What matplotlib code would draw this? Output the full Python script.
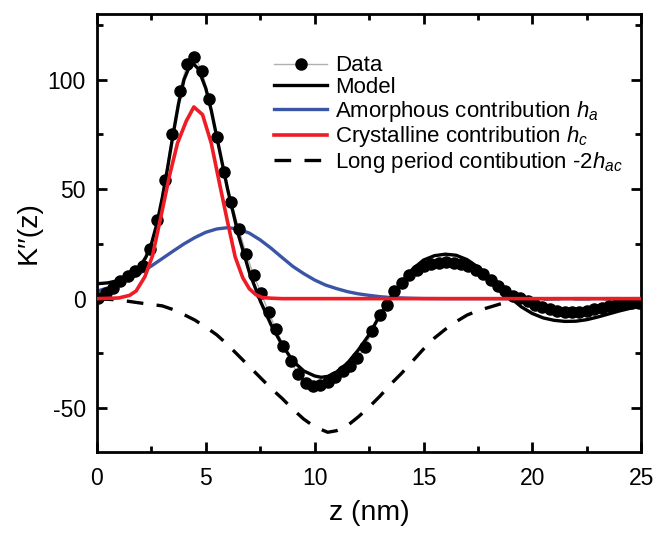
import numpy as np
import matplotlib
matplotlib.use("Agg")
import matplotlib.pyplot as plt
from matplotlib.ticker import MultipleLocator

plt.rcParams['font.family'] = ['Liberation Sans', 'DejaVu Sans']
plt.rcParams['mathtext.fontset'] = 'custom'
plt.rcParams['mathtext.rm'] = 'Liberation Sans'
plt.rcParams['mathtext.it'] = 'Liberation Sans:italic'
plt.rcParams['axes.unicode_minus'] = False

# ---- Data (measured points) ----
data_z = [0.06, 0.40, 0.74, 1.08, 1.42, 1.76, 2.10, 2.44, 2.78, 3.12, 3.46, 3.80,
          4.14, 4.48, 4.82, 5.16, 5.50, 5.84, 6.18, 6.52, 6.86, 7.20, 7.54, 7.88,
          8.22, 8.56, 8.90, 9.24, 9.58, 9.92, 10.26, 10.60, 10.94, 11.28, 11.62, 11.96,
          12.30, 12.64, 12.98, 13.32, 13.66, 14.00, 14.34, 14.68, 15.02, 15.36, 15.70, 16.04,
          16.38, 16.72, 17.06, 17.40, 17.74, 18.08, 18.42, 18.76, 19.10, 19.44, 19.78, 20.12,
          20.46, 20.80, 21.14, 21.48, 21.82, 22.16, 22.50, 22.84, 23.18, 23.52, 23.86, 24.20,
          24.54, 24.88]
data_k = [0.5, 2.5, 4.9, 7.9, 10.2, 12.5, 14.8, 22.5, 36.0, 54.0, 75.0, 95.0,
          107.0, 110.5, 104.0, 91.0, 74.0, 58.0, 44.0, 31.6, 20.2, 10.7, 2.6, -6.1,
          -13.9, -21.5, -28.4, -34.6, -38.5, -39.9, -39.4, -37.9, -35.6, -33.1, -30.8, -27.2,
          -22.3, -15.0, -7.6, -2.8, 3.4, 7.3, 10.7, 13.0, 14.8, 15.9, 16.4, 16.5,
          16.4, 16.0, 15.0, 13.3, 11.3, 8.7, 5.8, 3.4, 1.4, 0.2, -1.3, -2.7,
          -3.9, -4.9, -5.6, -6.1, -6.2, -6.0, -5.5, -4.9, -4.2, -3.4, -2.7, -2.2,
          -2.0, -2.0]

# ---- Model ----
model_z = [0, 0.5, 1, 1.5, 2, 2.25, 2.5, 2.75, 3, 3.25, 3.5, 3.75, 4, 4.25, 4.45, 4.65,
           5, 5.25, 5.5, 5.75, 6, 6.5, 7, 7.5, 8, 8.5, 9, 9.5, 10, 10.3, 10.6, 11, 11.5, 12,
           12.5, 13, 13.5, 14, 14.5, 15, 15.5, 16, 16.5, 17, 17.5, 18, 18.5, 19, 19.5,
           20, 20.5, 21, 21.5, 22, 22.5, 23, 23.5, 24, 24.5, 25]
model_k = [6.8, 7.2, 8.3, 10.5, 15, 19, 25, 34, 46, 60, 75, 89, 100, 106, 107, 105,
           96, 86, 74, 62, 50, 29, 12, -1, -12, -21, -28.5, -33, -35.3, -35.9, -35.5, -33.5, -29.5, -23.5,
           -16.5, -7.5, 0.5, 7.5, 13.5, 17.6, 19.6, 20.3, 19.8, 17.8, 14.4, 10, 5, 0.3, -3.8,
           -6.8, -8.8, -9.9, -10.4, -10.3, -9.6, -8.4, -7, -5.6, -4.4, -3.5]

# ---- Amorphous contribution h_a ----
amor_z = [0, 0.5, 1, 1.5, 2, 2.5, 3, 3.5, 4, 4.5, 5, 5.5, 6, 6.5, 7, 7.5, 8, 8.5, 9,
          9.5, 10, 10.5, 11, 11.5, 12, 12.5, 13, 13.5, 14, 14.5, 15, 16, 25]
amor_k = [3.4, 4.9, 6.7, 9.1, 11.8, 14.9, 18.3, 21.7, 25.0, 27.9, 30.3, 31.8, 32.4,
          31.8, 29.9, 26.8, 23.0, 18.8, 14.7, 11.4, 8.5, 6.2, 4.6, 3.2, 2.2, 1.5, 0.9,
          0.5, 0.3, 0.15, 0.05, 0, 0]

# ---- Crystalline contribution h_c ----
cryst_z = [0, 1, 1.5, 1.8, 2.2, 2.55, 2.95, 3.33, 3.7, 4.1, 4.45, 4.85, 5.25, 5.6, 6.0,
           6.35, 6.7, 7.0, 7.3, 7.6, 8.0, 8.5, 25]
cryst_k = [0, 0.3, 1.5, 3.5, 10, 19.5, 38, 56, 71, 81, 87.5, 84, 71, 54, 35,
           19, 9.5, 4.5, 1.8, 0.5, 0.2, 0, 0]

# ---- Long period contribution -2h_ac ----
lp_z = [0, 1, 1.5, 2, 3, 3.5, 4, 4.5, 5, 5.5, 6, 6.5, 7, 7.5, 8, 8.5, 9, 9.5, 10, 10.6,
        11, 11.5, 12, 12.5, 13, 13.5, 14, 14.5, 15, 15.5, 16, 16.5, 17, 17.5, 18, 18.5,
        19, 19.5, 20, 21, 25]
lp_k = [0, -0.6, -1.3, -2, -3.3, -5, -7.3, -9.8, -13, -16.5, -21, -26, -31, -36, -41,
        -45.5, -50.5, -55, -58.5, -61, -60.3, -58, -54, -49.5, -44.5, -39, -34, -28.5, -23,
        -18, -14, -10.5, -7.5, -5.5, -4, -2.5, -1.3, -0.6, -0.2, 0, 0]

fig = plt.figure(figsize=(6.55, 5.33), dpi=100)
ax = fig.add_axes([0.148, 0.152, 0.831, 0.822])

ax.plot(data_z, data_k, color='#b0b0b0', lw=1.0, marker='o', ms=8,
        mfc='black', mec='black', label='Data', zorder=3)
ax.plot(model_z, model_k, color='black', lw=2.4, label='Model', zorder=4)
ax.plot(amor_z, amor_k, color='#3a55a5', lw=2.4, label=r'Amorphous contribution $h_a$', zorder=2)
ax.plot(cryst_z, cryst_k, color='#ee1c25', lw=2.6, label=r'Crystalline contribution $h_c$', zorder=5)
ax.plot(lp_z, lp_k, color='black', lw=2.4, ls=(0, (5, 4)),
        label=r'Long period contibution -2$h_{ac}$', zorder=2)

ax.set_xlim(0, 25)
ax.set_ylim(-70, 130)
ax.xaxis.set_major_locator(MultipleLocator(5))
ax.xaxis.set_minor_locator(MultipleLocator(2.5))
ax.yaxis.set_major_locator(MultipleLocator(50))
ax.yaxis.set_minor_locator(MultipleLocator(25))
ax.tick_params(which='both', direction='in', top=True, right=True, width=2.0,
               labelsize=16.5)
ax.tick_params(which='major', length=7, pad=8)
ax.tick_params(axis='x', which='major', pad=11)
ax.tick_params(which='minor', length=4)
for s in ax.spines.values():
    s.set_linewidth(2.0)

ax.set_xlabel('z (nm)', fontsize=20.5, labelpad=7)
ax.set_ylabel('K\u2032\u2032(z)', fontsize=20.5, labelpad=4)

leg = ax.legend(loc='upper left', bbox_to_anchor=(0.325, 0.905), frameon=False,
                fontsize=16, handlelength=2.4, handletextpad=0.35,
                labelspacing=0.03, borderpad=0, borderaxespad=0)

fig.savefig('out.png', dpi=100)
